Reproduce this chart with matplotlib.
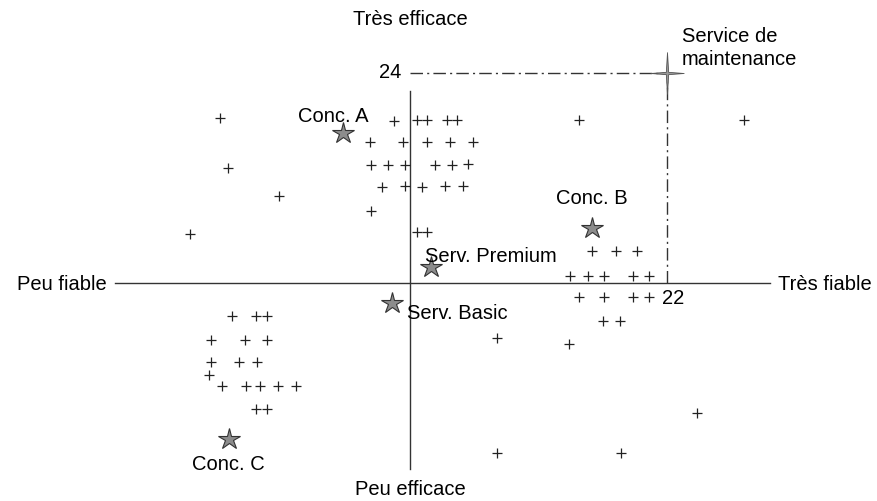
import matplotlib
matplotlib.use("Agg")
import matplotlib.pyplot as plt
from matplotlib.path import Path
import numpy as np

plt.rcParams['font.family'] = ['Liberation Sans', 'DejaVu Sans']

# other services (+)
plus_x = [-16.3, -1.4, 0.6, 1.5, 3.2, 4.0, 14.5, 28.6,
          -3.4, -0.6, 1.5, 3.4, 5.4,
          -15.6, -3.3, -1.9, -0.4, 2.1, 3.6, 5.0,
          -2.4, -0.4, 1.0, 3.0, 4.5,
          -11.2, -3.3, -18.8, 0.6, 1.5,
          15.6, 17.6, 19.4,
          13.7, 15.2, 16.6, 19.1, 20.5,
          14.5, 16.6, 19.1, 20.5,
          16.5, 18.0, 13.6,
          -15.2, -13.2, -12.2,
          -17.0, -14.1, -12.2,
          -17.0, -14.6, -13.1, -17.2,
          -16.1, -14.0, -12.8, -11.3, -9.8,
          -13.2, -12.2,
          7.45, 7.45, 18.1, 24.6]
plus_y = [18.9, 18.5, 18.6, 18.6, 18.6, 18.6, 18.6, 18.6,
          16.1, 16.1, 16.1, 16.1, 16.1,
          13.2, 13.5, 13.5, 13.5, 13.5, 13.5, 13.6,
          11.0, 11.1, 11.0, 11.1, 11.1,
          9.9, 8.2, 5.6, 5.8, 5.8,
          3.7, 3.7, 3.7,
          0.8, 0.8, 0.8, 0.8, 0.8,
          -1.6, -1.6, -1.6, -1.6,
          -4.3, -4.3, -7.0,
          -3.8, -3.8, -3.8,
          -6.5, -6.5, -6.5,
          -9.0, -9.0, -9.0, -10.5,
          -11.8, -11.8, -11.8, -11.8, -11.8,
          -14.4, -14.4,
          -6.3, -19.4, -19.4, -14.9]

# named offers (stars)
star_names = ["Conc. A", "Conc. B", "Conc. C", "Serv. Premium", "Serv. Basic"]
star_x = [-5.7, 15.6, -15.5, 1.8, -1.5]
star_y = [17.1, 6.3, -17.8, 1.8, -2.3]
star_offsets = [(-10, 18), (0, 30), (-1, -25), (-6, 12), (15, -9)]
star_ha = ["center", "center", "center", "left", "left"]

# target
target_name = "Service de\nmaintenance"
target_x = 22
target_y = 24

fig = plt.figure(figsize=(8.78, 5.02), dpi=100)
ax = fig.add_axes([0, 0, 1, 1])
ax.set_xlim(-35.1, 40.07)
ax.set_ylim(-24.9, 32.46)
ax.axis('off')

fs = 14.5

# axes cross
ax.plot([-25.26, 30.8], [0, 0], color='#333333', lw=1)
ax.plot([0, 0], [-21.3, 21.9], color='#333333', lw=1)

ax.text(0, 30.2, "Très efficace", ha='center', va='center', fontsize=fs)
ax.text(0, -23.5, "Peu efficace", ha='center', va='center', fontsize=fs)
ax.text(-26.0, 0, "Peu fiable", ha='right', va='center', fontsize=fs)
ax.text(31.5, 0, "Très fiable", ha='left', va='center', fontsize=fs)

ax.plot(plus_x, plus_y, ls='none', marker='+', ms=7, mew=0.9, color='#222222')

ax.plot(star_x, star_y, ls='none', marker='*', ms=16, mfc='#8c8c8c',
        mec='#333333', mew=0.8)
for n, x, y, off, ha in zip(star_names, star_x, star_y, star_offsets, star_ha):
    ax.annotate(n, (x, y), xytext=off, textcoords='offset pixels',
                ha=ha, va='center', fontsize=fs)

# target marker and guides
ax.plot([0, target_x], [target_y, target_y], color='#333333', lw=1,
        dashes=(9, 3, 1.5, 3))
ax.plot([target_x, target_x], [0, target_y], color='#333333', lw=1,
        dashes=(9, 3, 1.5, 3))
verts = [(0, 1.25), (0.07, 0.07), (1, 0), (0.07, -0.07), (0, -1.25),
         (-0.07, -0.07), (-1, 0), (-0.07, 0.07), (0, 1.25)]
four_star = Path(verts, [Path.MOVETO] + [Path.LINETO] * 7 + [Path.CLOSEPOLY])
ax.plot([target_x], [target_y], ls='none', marker=four_star, ms=30,
        mfc='#999999', mec='#555555', mew=0.6)
ax.text(23.3, 27.0, target_name, ha='left', va='center', fontsize=fs,
        linespacing=1.3)
ax.text(-0.7, 24.2, "24", ha='right', va='center', fontsize=fs)
ax.text(21.6, -1.6, "22", ha='left', va='center', fontsize=fs)

fig.savefig("out.png", dpi=100)
